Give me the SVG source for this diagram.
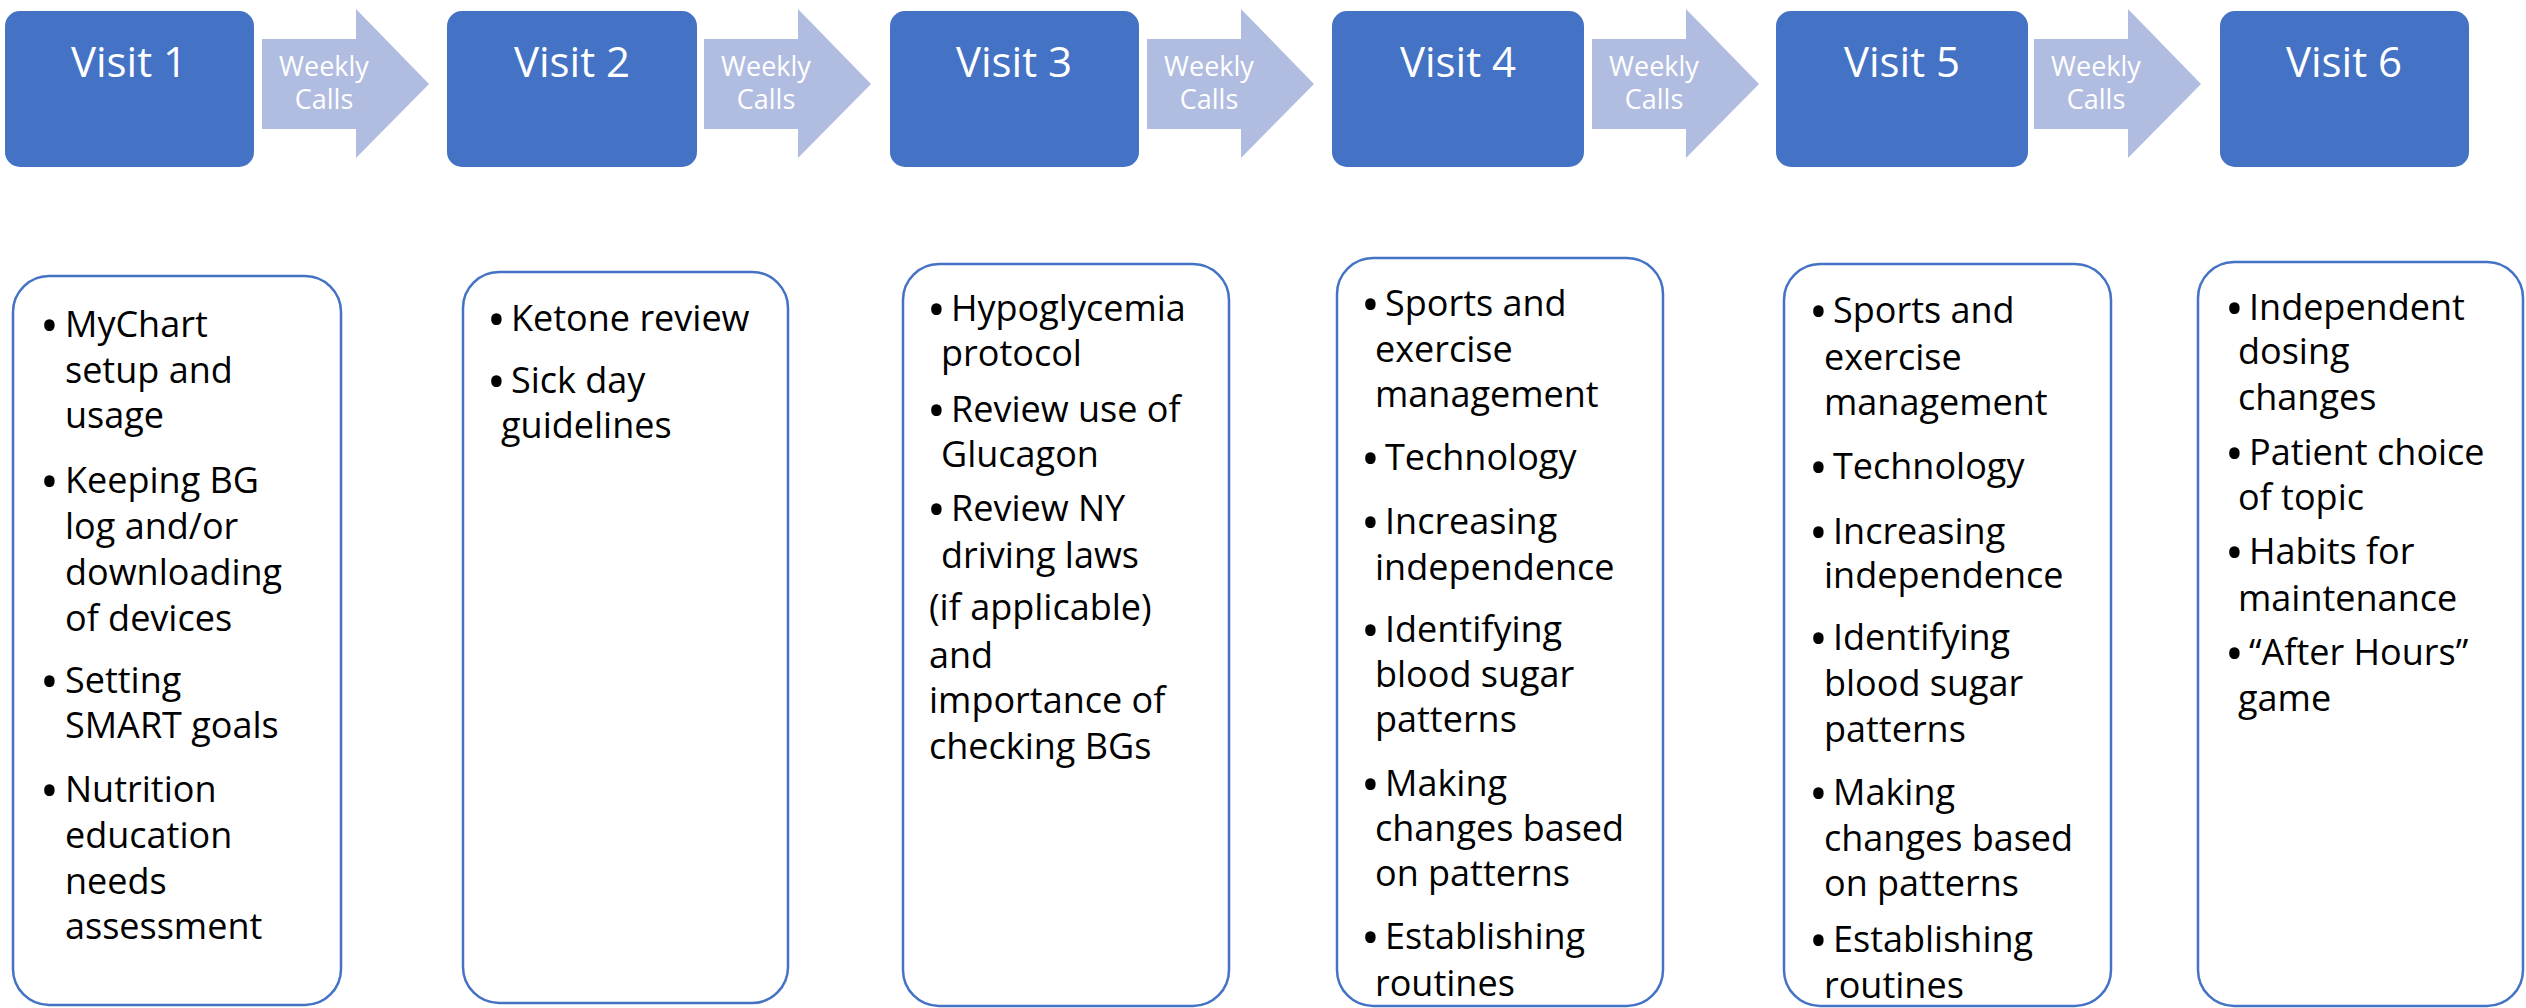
<svg xmlns="http://www.w3.org/2000/svg" width="2526" height="1008" viewBox="0 0 2526 1008">
<style>
.visit{fill:#4472C4;}
.vt{font-family:"Open Sans","Noto Sans",sans-serif;font-size:42px;fill:#fff;text-anchor:middle;}
.arr{fill:#B1BDE0;}
.at{font-family:"Open Sans","Noto Sans",sans-serif;font-size:27px;fill:#fff;text-anchor:middle;}
.card{fill:#fff;stroke:#4472C4;stroke-width:2.5;}
.ct{font-family:"Open Sans","Noto Sans",sans-serif;font-size:36px;fill:#000;}
.b{font-size:50px;}
</style>
<rect width="2526" height="1008" fill="#fff"/>
<defs>
<polygon id="arrow" points="0,39 94,39 94,9 167,84 94,158 94,129 0,129"/>
</defs>
<g id="connectors">
<g id="call1"><use href="#arrow" class="arr" x="262"/><text class="at" x="324" y="76">Weekly</text><text class="at" x="324" y="109">Calls</text></g>
<g id="call2"><use href="#arrow" class="arr" x="704"/><text class="at" x="766" y="76">Weekly</text><text class="at" x="766" y="109">Calls</text></g>
<g id="call3"><use href="#arrow" class="arr" x="1147"/><text class="at" x="1209" y="76">Weekly</text><text class="at" x="1209" y="109">Calls</text></g>
<g id="call4"><use href="#arrow" class="arr" x="1592"/><text class="at" x="1654" y="76">Weekly</text><text class="at" x="1654" y="109">Calls</text></g>
<g id="call5"><use href="#arrow" class="arr" x="2034"/><text class="at" x="2096" y="76">Weekly</text><text class="at" x="2096" y="109">Calls</text></g>
</g>
<g id="visit1"><rect class="visit" x="5" y="11" width="249" height="156" rx="15"/><text class="vt" x="129" y="77">Visit 1</text></g>
<g id="visit2"><rect class="visit" x="447" y="11" width="250" height="156" rx="15"/><text class="vt" x="572" y="77">Visit 2</text></g>
<g id="visit3"><rect class="visit" x="890" y="11" width="249" height="156" rx="15"/><text class="vt" x="1014" y="77">Visit 3</text></g>
<g id="visit4"><rect class="visit" x="1332" y="11" width="252" height="156" rx="15"/><text class="vt" x="1458" y="77">Visit 4</text></g>
<g id="visit5"><rect class="visit" x="1776" y="11" width="252" height="156" rx="15"/><text class="vt" x="1902" y="77">Visit 5</text></g>
<g id="visit6"><rect class="visit" x="2220" y="11" width="249" height="156" rx="15"/><text class="vt" x="2344" y="77">Visit 6</text></g>

<g id="card1"><rect class="card" x="13" y="276" width="328" height="729" rx="36"/>
<g class="ct">
<text class="b" x="40" y="343">•</text><text x="65" y="337">MyChart</text>
<text x="65" y="383">setup and</text>
<text x="65" y="428">usage</text>
<text class="b" x="40" y="499">•</text><text x="65" y="493">Keeping BG</text>
<text x="65" y="539">log and/or</text>
<text x="65" y="585">downloading</text>
<text x="65" y="631">of devices</text>
<text class="b" x="40" y="699">•</text><text x="65" y="693">Setting</text>
<text x="65" y="738">SMART goals</text>
<text class="b" x="40" y="808">•</text><text x="65" y="802">Nutrition</text>
<text x="65" y="848">education</text>
<text x="65" y="894">needs</text>
<text x="65" y="939">assessment</text>
</g></g>

<g id="card2"><rect class="card" x="463" y="272" width="325" height="731" rx="36"/>
<g class="ct">
<text class="b" x="487" y="337">•</text><text x="511" y="331">Ketone review</text>
<text class="b" x="487" y="399">•</text><text x="511" y="393">Sick day</text>
<text x="501" y="438">guidelines</text>
</g></g>

<g id="card3"><rect class="card" x="903" y="264" width="326" height="742" rx="36"/>
<g class="ct">
<text class="b" x="927" y="327">•</text><text x="951" y="321">Hypoglycemia</text>
<text x="941" y="366">protocol</text>
<text class="b" x="927" y="428">•</text><text x="951" y="422">Review use of</text>
<text x="941" y="467">Glucagon</text>
<text class="b" x="927" y="527">•</text><text x="951" y="521">Review NY</text>
<text x="941" y="568">driving laws</text>
<text x="929" y="620">(if applicable)</text>
<text x="929" y="668">and</text>
<text x="929" y="713">importance of</text>
<text x="929" y="759">checking BGs</text>
</g></g>

<g id="card4"><rect class="card" x="1337" y="258" width="326" height="748" rx="36"/>
<g class="ct">
<text class="b" x="1361" y="322">•</text><text x="1385" y="316">Sports and</text>
<text x="1375" y="362">exercise</text>
<text x="1375" y="407">management</text>
<text class="b" x="1361" y="476">•</text><text x="1385" y="470">Technology</text>
<text class="b" x="1361" y="540">•</text><text x="1385" y="534">Increasing</text>
<text x="1375" y="580">independence</text>
<text class="b" x="1361" y="648">•</text><text x="1385" y="642">Identifying</text>
<text x="1375" y="687">blood sugar</text>
<text x="1375" y="732">patterns</text>
<text class="b" x="1361" y="802">•</text><text x="1385" y="796">Making</text>
<text x="1375" y="841">changes based</text>
<text x="1375" y="886">on patterns</text>
<text class="b" x="1361" y="955">•</text><text x="1385" y="949">Establishing</text>
<text x="1375" y="996">routines</text>
</g></g>

<g id="card5"><rect class="card" x="1784" y="264" width="327" height="742" rx="36"/>
<g class="ct">
<text class="b" x="1809" y="329">•</text><text x="1833" y="323">Sports and</text>
<text x="1824" y="370">exercise</text>
<text x="1824" y="415">management</text>
<text class="b" x="1809" y="485">•</text><text x="1833" y="479">Technology</text>
<text class="b" x="1809" y="550">•</text><text x="1833" y="544">Increasing</text>
<text x="1824" y="588">independence</text>
<text class="b" x="1809" y="656">•</text><text x="1833" y="650">Identifying</text>
<text x="1824" y="696">blood sugar</text>
<text x="1824" y="742">patterns</text>
<text class="b" x="1809" y="811">•</text><text x="1833" y="805">Making</text>
<text x="1824" y="851">changes based</text>
<text x="1824" y="896">on patterns</text>
<text class="b" x="1809" y="958">•</text><text x="1833" y="952">Establishing</text>
<text x="1824" y="998">routines</text>
</g></g>

<g id="card6"><rect class="card" x="2198" y="262" width="325" height="744" rx="36"/>
<g class="ct">
<text class="b" x="2225" y="326">•</text><text x="2249" y="320">Independent</text>
<text x="2238" y="364">dosing</text>
<text x="2238" y="410">changes</text>
<text class="b" x="2225" y="471">•</text><text x="2249" y="465">Patient choice</text>
<text x="2238" y="510">of topic</text>
<text class="b" x="2225" y="570">•</text><text x="2249" y="564">Habits for</text>
<text x="2238" y="611">maintenance</text>
<text class="b" x="2225" y="671">•</text><text x="2249" y="665">“After Hours”</text>
<text x="2238" y="711">game</text>
</g></g>
</svg>
